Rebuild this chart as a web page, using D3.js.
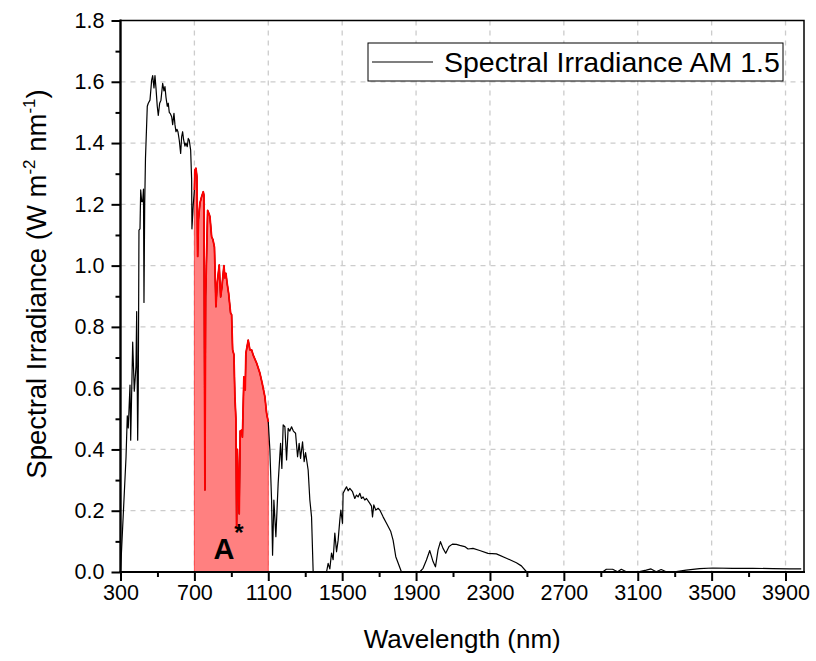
<!DOCTYPE html>
<html><head><meta charset="utf-8">
<script src="https://cdn.jsdelivr.net/npm/d3@7"></script>
<style>body{margin:0;background:#fff;} svg{display:block;font-family:"Liberation Sans",Arial,sans-serif;}</style>
</head><body><svg id="c" width="816" height="661"></svg>
<script>
// Full AM 1.5 spectrum: wavelength (nm) and irradiance (W m^-2 nm^-1)
const wavelength = [300,330,336.8,342,351.4,355.2,366,374.6,383.8,387.6,393,396.3,400,405.5,409.3,414.7,420,424.4,427.1,431,435.2,445,450.4,459.6,468.8,474.2,481.2,486.6,492,499,504.5,512,519,528.3,535.3,540.7,546.1,553.1,558.6,564,570.5,577,582.4,589.4,594.8,600.2,605.6,611,618,625.6,631,636.4,641.8,648.9,654.3,661.3,666.7,672.1,679.7,685.1,686.7,694,
700,703,708.4,713.8,717.6,722,730,739.2,747.9,751.7,757,760.9,771.7,778.7,784,793.3,800.3,808.5,816.6,823.6,834.4,842,849,859.8,865.2,870.6,877.7,885.2,896,901.4,906.9,913.9,919.3,924.7,928.5,932.9,937,942.6,948,955.6,960,968,975,978.8,991.3,1000.5,1009.7,1018.3,1036.7,1054.6,1067,1081.6,1090.8,1100,
1108.6,1117.8,1123.2,1130.3,1141.1,1153.5,1166.5,1173.5,1180.6,1189.8,1199,1207.6,1216.8,1226,1235.8,1247.7,1258.5,1267.1,1274.7,1285.5,1294.2,1301.8,1315.8,1325,1334.2,1342.9,1415.3,1424,1433.2,1442.4,1451.1,1460.2,1469.5,1478.1,1487.3,1492.7,1501.9,1505.1,1514.3,1523.5,1532.2,1541.4,1556,1568.4,1577.6,1586.3,1595.5,1604.7,1613.3,1622.5,1631.7,1649.6,1658.7,1664.2,1671.2,1682,1694.5,1703.7,1721.5,1739.9,1763.1,1775.6,1790.2,1821,
1920,1937.8,1956.2,1974.1,1992,2005,2019,2032,2046,2060.6,2078.5,2096.9,2118.5,2136.4,2163.4,2181.3,2208.3,2244.5,2289.4,2334.9,2388.9,2443,2470,2498.8,2910,2930,2964,2991,3011,3038,3110,3146,3172,3200,3227,3254,3308,3362,3434.5,3506.5,3614.7,3722.9,3831,3921,3985];
const irradiance = [0,0.376,0.51,0.47,0.61,0.43,0.75,0.59,0.67,0.85,0.43,0.6,1.116,1.12,1.247,1.209,1.209,1.25,0.88,1.2,1.35,1.52,1.53,1.54,1.606,1.62,1.58,1.62,1.58,1.52,1.49,1.53,1.54,1.595,1.57,1.584,1.55,1.52,1.53,1.5,1.495,1.486,1.46,1.497,1.46,1.437,1.445,1.437,1.41,1.366,1.42,1.437,1.41,1.39,1.4,1.388,1.415,1.41,1.377,1.28,1.12,1.2,
1.247,1.312,1.318,1.29,1.03,1.15,1.204,1.225,1.241,1.23,0.268,0.9,1.18,1.17,1.16,1.094,1.085,1.06,0.866,0.943,1.002,0.898,0.93,1.0,0.96,0.975,0.94,0.91,0.845,0.84,0.725,0.71,0.572,0.5,0.148,0.4,0.3,0.19,0.46,0.463,0.44,0.637,0.594,0.714,0.757,0.725,0.725,0.708,0.682,0.649,0.616,0.572,0.518,0.49,
0.398,0.235,0.055,0.235,0.115,0.29,0.42,0.338,0.48,0.474,0.366,0.469,0.46,0.474,0.46,0.453,0.376,0.42,0.371,0.425,0.36,0.39,0.333,0.235,0.18,0,0,0.028,0.01,0.062,0.04,0.127,0.066,0.104,0.17,0.202,0.159,0.257,0.268,0.278,0.265,0.273,0.262,0.24,0.251,0.245,0.257,0.24,0.245,0.235,0.24,0.224,0.215,0.18,0.219,0.202,0.208,0.202,0.18,0.159,0.132,0.104,0.05,0,
0,0.012,0.039,0.07,0.034,0.017,0.072,0.099,0.077,0.061,0.083,0.091,0.09,0.087,0.083,0.075,0.077,0.07,0.061,0.059,0.045,0.03,0.02,0,0,0.009,0.009,0.001,0.009,0.001,0.001,0.006,0.01,0.001,0.008,0.001,0.001,0.006,0.011,0.013,0.012,0.012,0.011,0.01,0.01];
const xTicks = [300,700,1100,1500,1900,2300,2700,3100,3500,3900];
const yTicks = [0,0.2,0.4,0.6,0.8,1.0,1.2,1.4,1.6,1.8];
const bandRange = [700,1100];
const seriesName = "Spectral Irradiance AM 1.5";

const svg = d3.select("#c");
const L=120.5, R=804, T=20.5, B=572;
const x = d3.scaleLinear().domain([300,4000]).range([L,R]);
const y = d3.scaleLinear().domain([0,1.8]).range([B,T]);
const data = wavelength.map((w,i)=>({w, v:irradiance[i]}));
const band = data.filter(d=>d.w>=bandRange[0] && d.w<=bandRange[1]);

// grid
const g = svg.append("g");
g.selectAll(".gx").data(xTicks.slice(1)).join("line")
  .attr("x1",d=>x(d)).attr("x2",d=>x(d)).attr("y1",T).attr("y2",B)
  .attr("stroke","#cccccc").attr("stroke-width",1.3).attr("stroke-dasharray","5,5");
g.selectAll(".gy").data(yTicks.slice(1,-1)).join("line")
  .attr("y1",d=>y(d)).attr("y2",d=>y(d)).attr("x1",L).attr("x2",R)
  .attr("stroke","#cccccc").attr("stroke-width",1.3).attr("stroke-dasharray","5,5");

// shaded band
const area = d3.area().x(d=>x(d.w)).y0(y(0)).y1(d=>y(d.v));
svg.append("path").datum(band).attr("d",area)
  .attr("fill","#ff8080").attr("stroke","#ff3333").attr("stroke-width",0.8);

const line = d3.line().x(d=>x(d.w)).y(d=>y(d.v));
svg.append("path").datum(data).attr("d",line)
  .attr("fill","none").attr("stroke","#000").attr("stroke-width",1.2).attr("stroke-linejoin","round");
svg.append("path").datum(band).attr("d",line)
  .attr("fill","none").attr("stroke","#ff0000").attr("stroke-width",1.8).attr("stroke-linejoin","round");

// axes
const xAxis = svg.append("g").attr("transform",`translate(0,${B})`)
  .call(d3.axisBottom(x).tickValues(xTicks).tickSize(9).tickPadding(4).tickFormat(d3.format("d")));
const xMinor = svg.append("g").attr("transform",`translate(0,${B})`)
  .call(d3.axisBottom(x).tickValues(d3.range(500,4000,400)).tickSize(5).tickFormat(""));
const yAxis = svg.append("g").attr("transform",`translate(${L},0)`)
  .call(d3.axisLeft(y).tickValues(yTicks).tickSize(9).tickPadding(7).tickFormat(d3.format(".1f")));
const yMinor = svg.append("g").attr("transform",`translate(${L},0)`)
  .call(d3.axisLeft(y).tickValues(d3.range(0.1,1.8,0.2)).tickSize(5).tickFormat(""));
[xAxis,xMinor,yAxis,yMinor].forEach(a=>{
  a.select(".domain").remove();
  a.selectAll(".tick line").attr("stroke","#000").attr("stroke-width",2);
  a.selectAll("text").attr("font-size",21.5).attr("fill","#000").attr("font-family","Liberation Sans, Arial, sans-serif");
});
// frame
svg.append("rect").attr("x",L).attr("y",T).attr("width",R-L).attr("height",B-T)
  .attr("fill","none").attr("stroke","#000").attr("stroke-width",1.5);
svg.append("line").attr("x1",L).attr("x2",L).attr("y1",T-1).attr("y2",B+1).attr("stroke","#000").attr("stroke-width",2.2);
svg.append("line").attr("x1",L-1).attr("x2",R+1).attr("y1",B).attr("y2",B).attr("stroke","#000").attr("stroke-width",2.2);

// titles
svg.append("text").attr("x",(L+R)/2).attr("y",648).attr("text-anchor","middle")
  .attr("font-size",26).text("Wavelength (nm)");
const yt = svg.append("text").attr("transform",`translate(46,284) rotate(-90)`)
  .attr("text-anchor","middle").attr("font-size",27.5);
yt.append("tspan").text("Spectral Irradiance (W m");
yt.append("tspan").attr("font-size",17).attr("dy",-11).text("-2");
yt.append("tspan").attr("dy",11).text(" nm");
yt.append("tspan").attr("font-size",17).attr("dy",-11).text("-1");
yt.append("tspan").attr("dy",11).text(")");

// legend
const lg = svg.append("g");
lg.append("rect").attr("x",368).attr("y",43).attr("width",415).attr("height",38)
  .attr("fill","#fff").attr("stroke","#000").attr("stroke-width",1);
lg.append("line").attr("x1",372).attr("x2",433).attr("y1",62).attr("y2",62).attr("stroke","#000").attr("stroke-width",1.2);
lg.append("text").attr("x",444).attr("y",72).attr("font-size",28.5).text(seriesName);

// A* label
const at = svg.append("text").attr("x",x(885)).attr("y",559).attr("text-anchor","middle")
  .attr("font-size",29).attr("font-weight","bold");
at.append("tspan").text("A");
at.append("tspan").attr("font-size",24).attr("dy",-18).text("*");
</script></body></html>
